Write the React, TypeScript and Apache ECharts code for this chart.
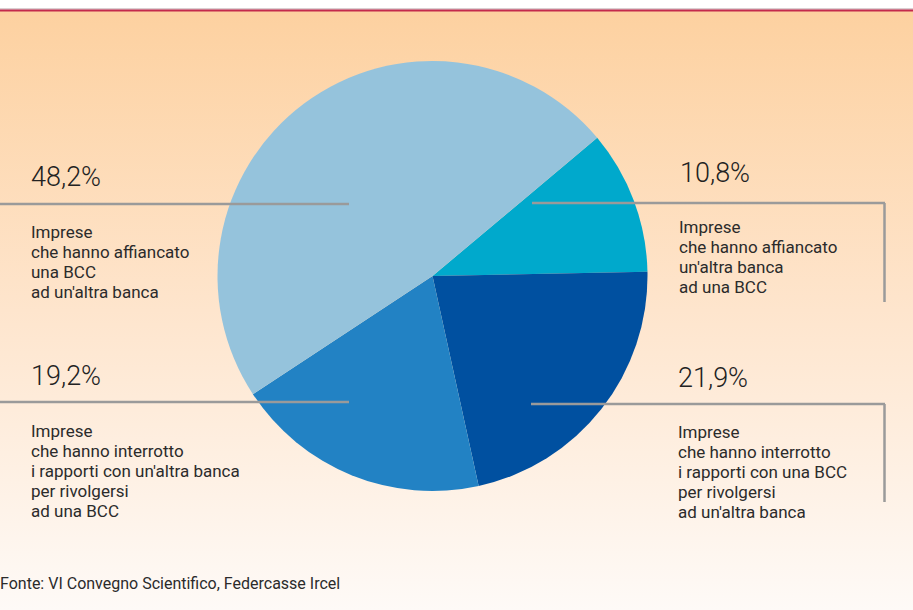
import React, { useEffect, useRef } from "react";
import * as echarts from "echarts";

const categories = [
  "Imprese che hanno affiancato un'altra banca ad una BCC",
  "Imprese che hanno interrotto i rapporti con una BCC per rivolgersi ad un'altra banca",
  "Imprese che hanno interrotto i rapporti con un'altra banca per rivolgersi ad una BCC",
  "Imprese che hanno affiancato una BCC ad un'altra banca",
];
const values = [10.8, 21.9, 19.2, 48.2];
const colors = ["#00a9cc", "#0050a0", "#2282c4", "#95c3dc"];
const percentLabels = ["10,8%", "21,9%", "19,2%", "48,2%"];
const descLabels = [
  "Imprese\nche hanno affiancato\nun'altra banca\nad una BCC",
  "Imprese\nche hanno interrotto\ni rapporti con una BCC\nper rivolgersi\nad un'altra banca",
  "Imprese\nche hanno interrotto\ni rapporti con un'altra banca\nper rivolgersi\nad una BCC",
  "Imprese\nche hanno affiancato\nuna BCC\nad un'altra banca",
];
const source = "Fonte: VI Convegno Scientifico, Federcasse Ircel";

const FONT = "Roboto, 'Noto Sans', sans-serif";
const TXT = "#2b2b2b";
const LINE = "#9a9a9a";

export default function App() {
  const ref = useRef<HTMLDivElement>(null);
  useEffect(() => {
    document.body.style.margin = "0";
    const chart = echarts.init(ref.current!, null, { renderer: "svg" });
    const pct = (i: number, x: number, y: number) => ({
      type: "text",
      z: 100,
      x,
      y,
      style: {
        text: percentLabels[i],
        font: `300 27px ${FONT}`,
        fill: "#222222",
        verticalAlign: "middle",
      },
    });
    const desc = (i: number, x: number, y: number) => ({
      type: "text",
      z: 100,
      x,
      y,
      style: {
        text: descLabels[i],
        font: `17px ${FONT}`,
        lineHeight: 20,
        fill: TXT,
        verticalAlign: "top",
      },
    });
    const line = (x1: number, y1: number, x2: number, y2: number) => ({
      type: "line",
      z: 100,
      shape: { x1, y1, x2, y2 },
      style: { stroke: LINE, lineWidth: 2.5 },
    });
    chart.setOption({
      animation: false,
      graphic: [
        {
          type: "rect",
          z: -10,
          shape: { x: 0, y: 11, width: 913, height: 599 },
          style: {
            fill: {
              type: "linear",
              x: 0,
              y: 0,
              x2: 0,
              y2: 1,
              colorStops: [
                { offset: 0, color: "#fdd1a0" },
                { offset: 0.5, color: "#fee5cd" },
                { offset: 1, color: "#fefaf7" },
              ],
            },
          },
        },
        {
          type: "rect",
          z: -9,
          shape: { x: 0, y: 8.5, width: 913, height: 1 },
          style: { fill: "#b8a0a6" },
        },
        {
          type: "rect",
          z: -9,
          shape: { x: 0, y: 9.5, width: 913, height: 2 },
          style: { fill: "#c42a4c" },
        },
        line(0, 204, 349, 204),
        line(0, 402, 349, 402),
        line(532, 203, 885, 203),
        line(884.5, 203, 884.5, 302),
        line(531, 404, 885, 404),
        line(884.5, 404, 884.5, 502),
        pct(3, 31, 177),
        desc(3, 31, 222),
        pct(0, 680, 173),
        desc(0, 679, 217),
        pct(2, 31, 376),
        desc(2, 31, 421),
        pct(1, 678, 378),
        desc(1, 678, 422),
        {
          type: "text",
          z: 100,
          x: 0,
          y: 583,
          style: {
            text: source,
            font: `16px ${FONT}`,
            fill: TXT,
            verticalAlign: "middle",
          },
        },
      ],
      series: [
        {
          type: "pie",
          center: [432.5, 276],
          radius: [0, 215],
          startAngle: 40,
          clockwise: true,
          silent: true,
          label: { show: false },
          labelLine: { show: false },
          itemStyle: { borderWidth: 0 },
          data: values.map((v, i) => ({
            value: v,
            name: categories[i],
            itemStyle: { color: colors[i] },
          })),
        },
      ],
    });
    return () => chart.dispose();
  }, []);
  return <div ref={ref} style={{ width: 913, height: 610, background: "#ffffff" }} />;
}
